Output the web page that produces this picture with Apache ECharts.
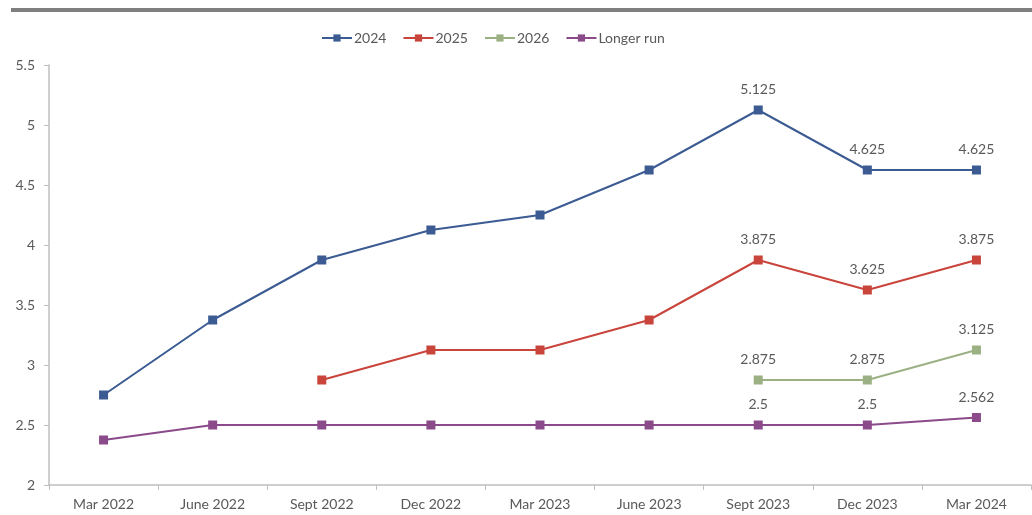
<!DOCTYPE html>
<html><head><meta charset="utf-8">
<script src="https://cdn.jsdelivr.net/npm/echarts@6/dist/echarts.min.js"></script>
<style>html,body{margin:0;padding:0;background:#fff}#c{width:1032px;height:515px}</style>
</head><body><div id="c"></div>
<script>
const categories = ['Mar 2022','June 2022','Sept 2022','Dec 2022','Mar 2023','June 2023','Sept 2023','Dec 2023','Mar 2024'];
const s2024 = [2.75, 3.375, 3.875, 4.125, 4.25, 4.625, 5.125, 4.625, 4.625];
const s2025 = [null, null, 2.875, 3.125, 3.125, 3.375, 3.875, 3.625, 3.875];
const s2026 = [null, null, null, null, null, null, 2.875, 2.875, 3.125];
const sLonger = [2.375, 2.5, 2.5, 2.5, 2.5, 2.5, 2.5, 2.5, 2.5625];
const seriesNames = ['2024','2025','2026','Longer run'];
const colors = ['#3b5b92','#c9443b','#9bb184','#8b4a8a'];
const labelFrom = 6;

const font = 'Lato';
const txt = '#595959';
function mk(name, data, color){
  return {
    name, type:'line', data, symbol:'rect', symbolSize:9,
    lineStyle:{width:2, color}, itemStyle:{color},
    connectNulls:false,
    label:{show:true, position:'top', distance:9, color:txt, fontFamily:font, fontSize:14,
      formatter:p => p.dataIndex >= labelFrom && p.value != null ? (Math.floor(p.value*1000)/1000).toString() : ''}
  };
}
const chart = echarts.init(document.getElementById('c'));
chart.setOption({
  animation:false,
  color:colors,
  graphic:[{type:'rect', shape:{x:11, y:8, width:1021, height:4}, style:{fill:'#7f7f7f'}}],
  legend:{top:26, left:316, itemWidth:30, itemHeight:9, itemGap:16,
    textStyle:{color:txt, fontFamily:font, fontSize:14, padding:[0,0,0,-3]},
    data:seriesNames},
  grid:{left:49, right:1, top:65, bottom:30},
  xAxis:{type:'category', data:categories, boundaryGap:true,
    axisLine:{lineStyle:{color:'#bfbfbf', width:1.5}},
    axisTick:{show:true, length:5, lineStyle:{color:'#bfbfbf'}},
    axisLabel:{color:txt, fontFamily:font, fontSize:14, margin:12}},
  yAxis:{type:'value', min:2, max:5.5, interval:0.5,
    splitLine:{show:false},
    axisLine:{show:true, lineStyle:{color:'#bfbfbf', width:1.5}},
    axisTick:{show:true, length:5, lineStyle:{color:'#bfbfbf'}},
    axisLabel:{color:txt, fontFamily:font, fontSize:14, margin:14}},
  series:[mk(seriesNames[0], s2024, colors[0]), mk(seriesNames[1], s2025, colors[1]),
          mk(seriesNames[2], s2026, colors[2]), mk(seriesNames[3], sLonger, colors[3])]
});
</script></body></html>
